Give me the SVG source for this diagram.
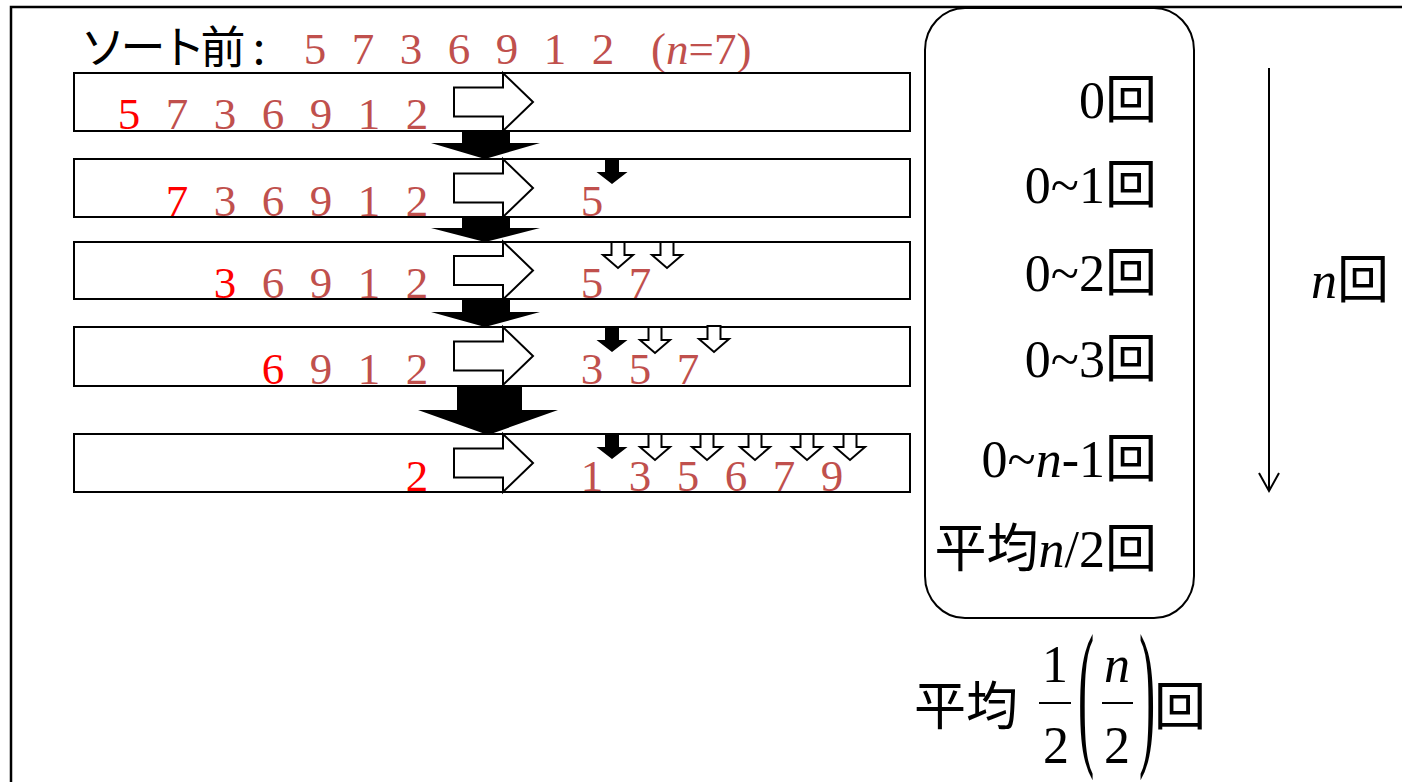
<svg xmlns="http://www.w3.org/2000/svg" width="1402" height="782" viewBox="0 0 1402 782">
  <style>
    .frame { fill: none; stroke: #000; stroke-width: 2.5; }
    .row { fill: #fff; stroke: #000; stroke-width: 2; }
    .harrow { fill: #fff; stroke: #000; stroke-width: 2; stroke-linejoin: miter; }
    .down { fill: #000; stroke: none; }
    .sh { fill: #fff; stroke: #000; stroke-width: 2; }
    .sb { fill: #000; stroke: none; }
    .num { font-family: 'Liberation Serif', 'Times New Roman', 'DejaVu Serif', serif; font-size: 45px; fill: #C0504D; text-anchor: middle; }
    .red { fill: #FF0000; }
    .jp { font-family: 'Noto Sans CJK JP', sans-serif; fill: #000; }
    .bx { font-family: 'Liberation Serif', 'Times New Roman', 'Noto Sans CJK JP', serif; font-size: 52px; fill: #000; }
    .big { font-size: 162px; }
    .it { font-style: italic; }
    .ln { fill: none; stroke: #000; stroke-width: 2; }
  </style>
  <defs>
    <!-- hollow right-pointing arrow, origin at left end of body / row top -->
    <path id="rarrow" class="harrow" d="M0,14.5 H49 V0 L79,29 L49,58 V43.5 H0 Z"/>
    <!-- small hollow down arrow, origin at top centre -->
    <path id="sdh" class="sh" d="M-6.5,0 H6.5 V13 H15 L0,26 L-15,13 H-6.5 Z"/>
    <!-- small solid down arrow -->
    <path id="sdb" class="sb" d="M-7,0 H7 V13 H15.5 L0,25 L-15.5,13 H-7 Z"/>
  </defs>

  <!-- outer frame -->
  <path class="frame" d="M11,782 V7 H1402"/>

  <!-- heading line -->
  <g id="title">
    <text class="jp" x="80.5" y="64" font-size="45" letter-spacing="-5">ソート前</text>
    <text class="jp" x="259" y="64" font-size="45" text-anchor="middle">:</text>
    <text class="num" y="64" x="315">5</text>
    <text class="num" y="64" x="363">7</text>
    <text class="num" y="64" x="411">3</text>
    <text class="num" y="64" x="459">6</text>
    <text class="num" y="64" x="507">9</text>
    <text class="num" y="64" x="555">1</text>
    <text class="num" y="64" x="603">2</text>
    <text class="num" y="64" x="651" style="text-anchor:start">(<tspan class="it">n</tspan>=7)</text>
  </g>

  <!-- pass 1 -->
  <g id="row1">
    <rect class="row" x="74" y="73" width="836" height="58"/>
    <use href="#rarrow" x="454" y="73"/>
    <text class="num red" x="129" y="129">5</text>
    <text class="num" x="177" y="129">7</text>
    <text class="num" x="225" y="129">3</text>
    <text class="num" x="273" y="129">6</text>
    <text class="num" x="321" y="129">9</text>
    <text class="num" x="369" y="129">1</text>
    <text class="num" x="417" y="129">2</text>
  </g>

  <!-- pass 2 -->
  <g id="row2">
    <rect class="row" x="74" y="159" width="836" height="58"/>
    <use href="#rarrow" x="454" y="159"/>
    <text class="num red" x="177" y="216">7</text>
    <text class="num" x="225" y="216">3</text>
    <text class="num" x="273" y="216">6</text>
    <text class="num" x="321" y="216">9</text>
    <text class="num" x="369" y="216">1</text>
    <text class="num" x="417" y="216">2</text>
    <text class="num" x="592" y="216">5</text>
    <use href="#sdb" x="612" y="159"/>
  </g>

  <!-- pass 3 -->
  <g id="row3">
    <rect class="row" x="74" y="242" width="836" height="57"/>
    <use href="#rarrow" x="454" y="242" transform="translate(0,-0.5)"/>
    <text class="num red" x="225" y="298">3</text>
    <text class="num" x="273" y="298">6</text>
    <text class="num" x="321" y="298">9</text>
    <text class="num" x="369" y="298">1</text>
    <text class="num" x="417" y="298">2</text>
    <text class="num" x="592" y="298">5</text>
    <text class="num" x="640" y="298">7</text>
    <use href="#sdh" x="618" y="242"/>
    <use href="#sdh" x="667" y="242"/>
  </g>

  <!-- pass 4 -->
  <g id="row4">
    <rect class="row" x="74" y="327" width="836" height="59"/>
    <use href="#rarrow" x="454" y="327"/>
    <text class="num red" x="273" y="384">6</text>
    <text class="num" x="321" y="384">9</text>
    <text class="num" x="369" y="384">1</text>
    <text class="num" x="417" y="384">2</text>
    <text class="num" x="592" y="384">3</text>
    <text class="num" x="640" y="384">5</text>
    <text class="num" x="688" y="384">7</text>
    <use href="#sdb" x="612" y="327"/>
    <use href="#sdh" x="655" y="327"/>
    <use href="#sdh" x="714" y="326"/>
  </g>

  <!-- last pass -->
  <g id="row5">
    <rect class="row" x="74" y="434" width="836" height="58"/>
    <use href="#rarrow" x="454" y="434"/>
    <text class="num red" x="417" y="491">2</text>
    <text class="num" x="592" y="491">1</text>
    <text class="num" x="640" y="491">3</text>
    <text class="num" x="688" y="491">5</text>
    <text class="num" x="736" y="491">6</text>
    <text class="num" x="784" y="491">7</text>
    <text class="num" x="832" y="491">9</text>
    <use href="#sdb" x="612" y="434"/>
    <use href="#sdh" x="655" y="434"/>
    <use href="#sdh" x="707" y="434"/>
    <use href="#sdh" x="755" y="434"/>
    <use href="#sdh" x="807" y="434"/>
    <use href="#sdh" x="850" y="434"/>
  </g>

  <!-- arrows carrying the sequence from one pass to the next -->
  <g id="connectors">
    <path class="down" d="M462,131 H510 V143 H540 L485,159 L431,143 H462 Z"/>
    <path class="down" d="M462,217 H510 V228 H540 L485,242 L431,228 H462 Z"/>
    <path class="down" d="M462,299 H510 V312 H540 L485,327 L431,312 H462 Z"/>
    <path class="down" d="M457,386 H522 V410 H558 L488,435 L418,410 H457 Z"/>
  </g>

  <!-- comparison counts per pass -->
  <g id="counts">
    <rect class="ln" x="925" y="8" width="269" height="610" rx="40" ry="42"/>
    <text class="bx" x="1157" y="118" text-anchor="end">0回</text>
    <text class="bx" x="1157" y="203" text-anchor="end">0~1回</text>
    <text class="bx" x="1157" y="291" text-anchor="end">0~2回</text>
    <text class="bx" x="1157" y="377" text-anchor="end">0~3回</text>
    <text class="bx" x="1157" y="477" text-anchor="end">0~<tspan class="it">n</tspan>-1回</text>
    <text class="bx" x="1157" y="567" text-anchor="end">平均<tspan class="it">n</tspan>/2回</text>
  </g>

  <!-- number of passes -->
  <g id="passes">
    <line class="ln" x1="1269" y1="68" x2="1269" y2="491"/>
    <polyline class="ln" points="1259,473 1269,491 1279,473"/>
    <text class="bx" x="1311" y="298"><tspan class="it">n</tspan>回</text>
  </g>

  <!-- overall average -->
  <g id="average">
    <text class="jp" x="914" y="725" font-size="52">平均</text>
    <text class="bx" x="1055" y="682" text-anchor="middle">1</text>
    <line class="ln" x1="1039" y1="703" x2="1071" y2="703"/>
    <text class="bx" x="1056" y="763" text-anchor="middle">2</text>
    <text class="bx big" text-anchor="middle" transform="translate(1086,746) scale(0.3,1)">(</text>
    <text class="bx it" x="1117" y="682" text-anchor="middle">n</text>
    <line class="ln" x1="1102" y1="703" x2="1133" y2="703"/>
    <text class="bx" x="1117" y="763" text-anchor="middle">2</text>
    <text class="bx big" text-anchor="middle" transform="translate(1147,746) scale(0.3,1)">)</text>
    <text class="jp" x="1154" y="725" font-size="52">回</text>
  </g>
</svg>
